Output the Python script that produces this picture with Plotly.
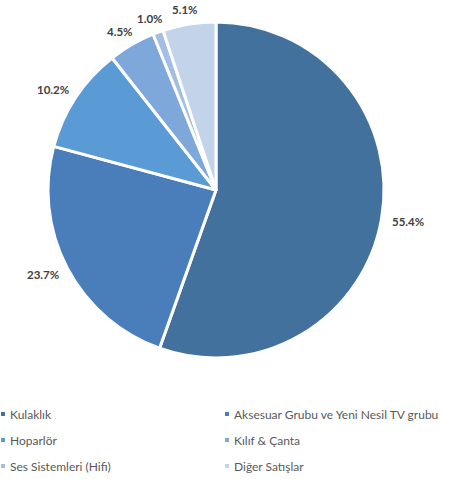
import math
import plotly.graph_objects as go

# Sales breakdown by product group (%)
categories = [
    "Kulaklık",
    "Aksesuar Grubu ve Yeni Nesil TV grubu",
    "Hoparlör",
    "Kılıf & Çanta",
    "Ses Sistemleri (Hifi)",
    "Diğer Satışlar",
]
shares = [55.4, 23.7, 10.2, 4.5, 1.0, 5.1]
colors = ["#41719c", "#4a7ebb", "#5b9bd5", "#7ea7da", "#a2bee5", "#c3d3ea"]

W, H = 453, 479
CX, CY, R = 216, 190, 168          # pie centre and radius in pixels

fig = go.Figure()
fig.add_trace(go.Pie(
    labels=categories,
    values=shares,
    textinfo="none",
    marker=dict(colors=colors, line=dict(color="white", width=3)),
    sort=False,
    direction="clockwise",
    rotation=0,
    showlegend=False,
    hoverinfo="label+value",
    domain=dict(x=[(CX - R) / W, (CX + R) / W], y=[1 - (CY + R) / H, 1 - (CY - R) / H]),
))

annotations, shapes = [], []

# Percentage labels just outside each slice, at the slice's mid-angle
total = sum(shares)
cum = 0.0
gap, box_h = 9, 12
for v in shares:
    mid = (cum + v / 2) / total * 2 * math.pi
    cum += v
    ux, uy = math.sin(mid), -math.cos(mid)
    txt = f"{v:.1f}%"
    box_w = 7.2 * len(txt)
    px = CX + (R + gap) * ux + ux * box_w / 2
    py = CY + (R + gap) * uy + uy * box_h / 2
    annotations.append(dict(xref="paper", yref="paper", x=px / W, y=1 - py / H,
                            xanchor="center", yanchor="middle", text=txt,
                            showarrow=False,
                            font=dict(family="Lato", size=11.5, color="#404040",
                                      weight="bold")))

# Two-column legend below the pie
for i, (name, col) in enumerate(zip(categories, colors)):
    row, column = divmod(i, 2)
    x0 = 1 + column * 224
    yc = 414 + row * 26
    shapes.append(dict(type="rect", xref="paper", yref="paper",
                       x0=x0 / W, x1=(x0 + 4) / W,
                       y0=1 - (yc + 2) / H, y1=1 - (yc - 2) / H,
                       fillcolor=col, line=dict(width=0)))
    annotations.append(dict(xref="paper", yref="paper", x=(x0 + 7) / W,
                            y=1 - yc / H, xanchor="left", yanchor="middle",
                            text=name, showarrow=False,
                            font=dict(family="Lato", size=12, color="#595959")))

fig.update_layout(
    width=W, height=H,
    margin=dict(l=0, r=0, t=0, b=0, autoexpand=False),
    paper_bgcolor="white",
    plot_bgcolor="white",
    shapes=shapes,
    annotations=annotations,
)

fig.write_html("out.html")
